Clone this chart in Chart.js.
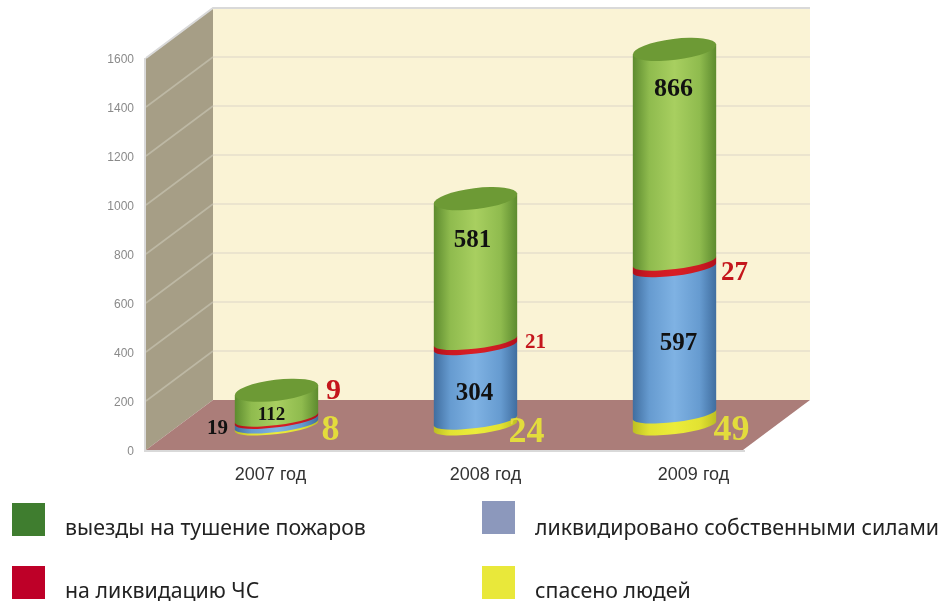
<!DOCTYPE html>
<html>
<head>
<meta charset="utf-8">
<title>chart</title>
<script src="https://cdn.jsdelivr.net/npm/chart.js@4"></script>
<style>
    html, body { margin: 0; padding: 0; background: #fff; }
    #wrap { position: relative; width: 950px; height: 607px; overflow: hidden; }
    #chart { position: absolute; left: 0; top: 0; filter: blur(0.7px); }
    .legend-box { position: absolute; width: 33px; height: 33px; }
    .legend-text { position: absolute; font-family: "Noto Sans", sans-serif; font-size: 21.3px; color: #222; white-space: nowrap; line-height: 26px; }
</style>
</head>
<body>
<div id="wrap"><canvas id="chart" width="950" height="607"></canvas></div>
<script>
const years = ['2007 год', '2008 год', '2009 год'];
const rescued = [8, 24, 49];
const eliminated = [19, 304, 597];
const emergencies = [9, 21, 27];
const fires = [112, 581, 866];
const yTicks = [0, 200, 400, 600, 800, 1000, 1200, 1400, 1600];

const seriesNames = {
    fires: 'выезды на тушение пожаров',
    eliminated: 'ликвидировано собственными силами',
    emergencies: 'на ликвидацию ЧС',
    rescued: 'спасено людей'
};

// depth of the 3d box, cylinders stand halfway in
const DEPTH_X = 67;
const DEPTH_Y = 50;
const BAR_SHIFT_X = 31;
const BAR_SHIFT_Y = 23.5;
const RX = 42;
const RY_CAP = 10.5;
const RY_LOW = 7.5;
const TILT = -7 * Math.PI / 180;

// edge, shoulder, middle, cap colours of every segment
const barColors = [
    ['#bcbe22', '#e2e232', '#ecec3a'],
    ['#3f6d9f', '#669bd0', '#7fb2e3'],
    ['#b0101c', '#cc1a22', '#d81e26'],
    ['#5c8a2e', '#8fbb4e', '#a8cf60', '#6d9a35']
];

// label look per dataset and year: dx, dy from the segment middle, size, colour
const labelStyles = [
    [[85, -18, 36, '#e3dc3c'], [82, -14, 36, '#e3dc3c'], [88, -13, 36, '#e3dc3c']],
    [[-28, -17, 21, '#111'], [30, -13, 25, '#111'], [35, -21, 25, '#111']],
    [[88, -51, 30, '#c4161c'], [91, -24, 21, '#c4161c'], [91, -15, 27, '#c4161c']],
    [[26, -12, 19, '#111'], [28, -53, 25, '#111'], [30, -90, 26, '#111']]
];
const xLabelShift = [25, 41, 50];

const box3d = {
    id: 'box3d',
    beforeDatasetsDraw(chart) {
        const { ctx, chartArea: a } = chart;
        const y = chart.scales.y;
        const t = a.top, b = a.bottom, l = a.left, r = a.right;
        ctx.save();
        // back wall
        ctx.fillStyle = '#faf3d5';
        ctx.fillRect(l + DEPTH_X, t - DEPTH_Y, r - l, b - t);
        // side wall
        ctx.fillStyle = '#a69e86';
        ctx.beginPath();
        ctx.moveTo(l, t);
        ctx.lineTo(l + DEPTH_X, t - DEPTH_Y);
        ctx.lineTo(l + DEPTH_X, b - DEPTH_Y);
        ctx.lineTo(l, b);
        ctx.closePath();
        ctx.fill();
        // floor
        ctx.fillStyle = '#ab7d79';
        ctx.beginPath();
        ctx.moveTo(l, b);
        ctx.lineTo(l + DEPTH_X, b - DEPTH_Y);
        ctx.lineTo(r + DEPTH_X, b - DEPTH_Y);
        ctx.lineTo(r, b);
        ctx.closePath();
        ctx.fill();
        // grid lines run along side wall and back wall
        ctx.lineWidth = 1.6;
        yTicks.slice(1, -1).forEach(v => {
            const py = y.getPixelForValue(v);
            ctx.strokeStyle = '#bdb8a4';
            ctx.beginPath();
            ctx.moveTo(l, py);
            ctx.lineTo(l + DEPTH_X, py - DEPTH_Y);
            ctx.stroke();
            ctx.strokeStyle = '#e6dfcb';
            ctx.beginPath();
            ctx.moveTo(l + DEPTH_X, py - DEPTH_Y);
            ctx.lineTo(r + DEPTH_X, py - DEPTH_Y);
            ctx.stroke();
        });
        // frame
        ctx.strokeStyle = '#d9d9d9';
        ctx.lineWidth = 2;
        ctx.beginPath();
        ctx.moveTo(l - 1, t);
        ctx.lineTo(l - 1, b + 1);
        ctx.lineTo(r + 2, b + 1);
        ctx.stroke();
        ctx.beginPath();
        ctx.moveTo(l, t);
        ctx.lineTo(l + DEPTH_X, t - DEPTH_Y);
        ctx.lineTo(r + DEPTH_X, t - DEPTH_Y);
        ctx.stroke();
        ctx.restore();
    },
    afterDatasetsDraw(chart) {
        const { ctx } = chart;
        const dx = RX * Math.cos(TILT), dy = RX * Math.sin(TILT);
        ctx.save();
        chart.data.datasets.forEach((ds, i) => {
            chart.getDatasetMeta(i).data.forEach((el, j) => {
                const cx = el.x + BAR_SHIFT_X;
                const top = el.y - BAR_SHIFT_Y;
                const base = el.base - BAR_SHIFT_Y;
                const grad = ctx.createLinearGradient(cx - RX, 0, cx + RX, 0);
                grad.addColorStop(0, barColors[i][0]);
                grad.addColorStop(0.2, barColors[i][1]);
                grad.addColorStop(0.5, barColors[i][2]);
                grad.addColorStop(0.8, barColors[i][1]);
                grad.addColorStop(1, barColors[i][0]);
                ctx.fillStyle = grad;
                ctx.beginPath();
                ctx.ellipse(cx, base, RX, RY_LOW, TILT, 0, Math.PI);
                ctx.lineTo(cx - dx, top - dy);
                ctx.lineTo(cx + dx, top + dy);
                ctx.closePath();
                ctx.fill();
                if (i === chart.data.datasets.length - 1) {
                    ctx.fillStyle = barColors[i][3];
                    ctx.beginPath();
                    ctx.ellipse(cx, top, RX, RY_CAP, TILT, 0, Math.PI * 2);
                    ctx.fill();
                }
            });
        });
        // value labels
        ctx.textAlign = 'center';
        ctx.textBaseline = 'middle';
        chart.data.datasets.forEach((ds, i) => {
            chart.getDatasetMeta(i).data.forEach((el, j) => {
                const s = labelStyles[i][j];
                ctx.font = 'bold ' + s[2] + 'px "Liberation Serif", serif';
                ctx.fillStyle = s[3];
                ctx.fillText(ds.data[j], el.x + s[0], (el.y + el.base) / 2 + s[1]);
            });
        });
        // year labels sit under the cylinders, not on the category centres
        const x = chart.scales.x;
        ctx.font = '18px "Liberation Sans", sans-serif';
        ctx.fillStyle = '#333';
        years.forEach((name, j) => {
            ctx.fillText(name, x.getPixelForTick(j) + xLabelShift[j], 475);
        });
        ctx.restore();
    }
};

new Chart(document.getElementById('chart'), {
    type: 'bar',
    data: {
        labels: years,
        datasets: [
            { label: seriesNames.rescued, data: rescued },
            { label: seriesNames.eliminated, data: eliminated },
            { label: seriesNames.emergencies, data: emergencies },
            { label: seriesNames.fires, data: fires }
        ]
    },
    options: {
        responsive: false,
        animation: false,
        barThickness: 84,
        backgroundColor: 'transparent',
        layout: { padding: { left: 96, right: 207, top: 58, bottom: 157 } },
        plugins: { legend: { display: false }, tooltip: { enabled: false } },
        scales: {
            x: {
                stacked: true,
                grid: { display: false },
                border: { display: false },
                ticks: { display: false },
                afterFit: s => { s.height = 0; }
            },
            y: {
                stacked: true,
                min: 0,
                max: 1600,
                grid: { display: false, drawTicks: false },
                border: { display: false },
                afterBuildTicks: s => { s.ticks = yTicks.map(v => ({ value: v })); },
                afterFit: s => { s.width = 50; },
                ticks: {
                    padding: 12,
                    labelOffset: 2,
                    color: '#8a8a8a',
                    font: { family: '"Liberation Sans", sans-serif', size: 12 },
                    callback: v => String(v)
                }
            }
        }
    },
    plugins: [box3d]
});

// legend is laid out by hand in two columns
const legendRows = [
    { name: seriesNames.fires, color: '#3f7d2f', box: [12, 503], text: [65, 514] },
    { name: seriesNames.eliminated, color: '#8c98bc', box: [482, 501], text: [535, 514] },
    { name: seriesNames.emergencies, color: '#be0028', box: [12, 566], text: [65, 577] },
    { name: seriesNames.rescued, color: '#e9e83a', box: [482, 566], text: [535, 577] }
];
const wrap = document.getElementById('wrap');
legendRows.forEach(row => {
    const box = document.createElement('div');
    box.className = 'legend-box';
    box.style.left = row.box[0] + 'px';
    box.style.top = row.box[1] + 'px';
    box.style.background = row.color;
    wrap.appendChild(box);
    const text = document.createElement('div');
    text.className = 'legend-text';
    text.style.left = row.text[0] + 'px';
    text.style.top = row.text[1] + 'px';
    text.textContent = row.name;
    wrap.appendChild(text);
});
</script>
</body>
</html>
